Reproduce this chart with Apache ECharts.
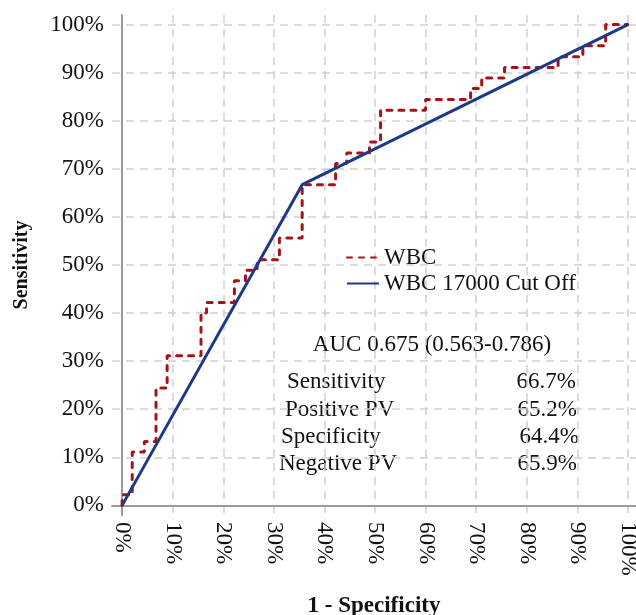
<!DOCTYPE html>
<html>
<head>
<meta charset="utf-8">
<script src="https://cdn.jsdelivr.net/npm/echarts@6/dist/echarts.min.js"></script>
<style>html,body{margin:0;padding:0;background:#fff}#c{width:636px;height:615px}</style>
</head>
<body>
<div id="c"></div>
<script>
// ---- data (percent) ----
var wbcX = [0, 0, 2.0, 2.0, 4.4, 4.4, 6.7, 6.7, 8.9, 8.9, 15.6, 15.6, 16.7, 16.7, 22.2, 22.2, 24.4, 24.4, 26.7, 26.7, 31.1, 31.1, 35.6, 35.6, 42.2, 42.2, 44.4, 44.4, 48.9, 48.9, 51.1, 51.1, 60.0, 60.0, 68.9, 68.9, 71.1, 71.1, 75.6, 75.6, 86.2, 86.2, 91.1, 91.1, 95.6, 95.6, 100];
var wbcY = [0, 2.2, 2.2, 11.1, 11.1, 13.3, 13.3, 24.4, 24.4, 31.1, 31.1, 40.0, 40.0, 42.2, 42.2, 46.7, 46.7, 48.9, 48.9, 51.1, 51.1, 55.6, 55.6, 66.7, 66.7, 71.1, 71.1, 73.3, 73.3, 75.6, 75.6, 82.2, 82.2, 84.4, 84.4, 86.7, 86.7, 88.9, 88.9, 91.1, 91.1, 93.3, 93.3, 95.6, 95.6, 100, 100];
var cutX = [0, 35.6, 100];
var cutY = [0, 66.7, 100];
var tickValues = [0, 10, 20, 30, 40, 50, 60, 70, 80, 90, 100];
var seriesNames = ['WBC', 'WBC 17000 Cut Off'];
var aucText = 'AUC 0.675 (0.563-0.786)';
var statNames = ['Sensitivity', 'Positive PV', 'Specificity', 'Negative PV'];
var statValues = ['66.7%', '65.2%', '64.4%', '65.9%'];

function pairs(xs, ys) { return xs.map(function (x, i) { return [x, ys[i]]; }); }

var FONT = '"Liberation Serif", "Times New Roman", serif';
var chart = echarts.init(document.getElementById('c'), null, { renderer: 'canvas' });

var gridLine = { show: true, lineStyle: { color: '#cfcfcf', width: 1.5, type: [8, 6] } };
var axisLineStyle = { show: true, lineStyle: { color: '#9a9a9a', width: 2 } };

var statLeft = [287, 285, 281, 279];
var statRight = [576, 577, 579, 577];
var statY = [382, 410, 437, 464];
var graphics = [{
  type: 'text', x: 432, y: 345,
  style: { text: aucText, font: '23px ' + FONT, fill: '#111', align: 'center', verticalAlign: 'middle' }
}];
statNames.forEach(function (n, i) {
  graphics.push({ type: 'text', x: statLeft[i], y: statY[i],
    style: { text: n, font: '23px ' + FONT, fill: '#111', align: 'left', verticalAlign: 'middle' } });
  graphics.push({ type: 'text', x: statRight[i], y: statY[i],
    style: { text: statValues[i], font: '23px ' + FONT, fill: '#111', align: 'right', verticalAlign: 'middle' } });
});

chart.setOption({
  animation: false,
  backgroundColor: '#fff',
  grid: { left: 112, right: 0, top: 15, bottom: 100, containLabel: false, outerBoundsMode: 'none' },
  xAxis: {
    type: 'value', min: -2, max: 101.6,
    name: '1 - Specificity', nameLocation: 'middle', nameGap: 80,
    nameTextStyle: { fontFamily: FONT, fontWeight: 'bold', fontSize: 23, color: '#111' },
    axisLine: axisLineStyle,
    axisTick: { show: false, customValues: tickValues },
    axisLabel: { customValues: tickValues, rotate: -90, margin: 7, formatter: '{value}%',
      fontFamily: FONT, fontSize: 23, color: '#111' },
    splitLine: gridLine
  },
  yAxis: {
    type: 'value', min: -2, max: 102,
    name: 'Sensitivity', nameLocation: 'middle', nameGap: 80, nameRotate: 90,
    nameTextStyle: { fontFamily: FONT, fontWeight: 'bold', fontSize: 20, color: '#111' },
    axisLine: axisLineStyle,
    axisTick: { show: false, customValues: tickValues },
    axisLabel: { customValues: tickValues, margin: 8, formatter: '{value}%',
      fontFamily: FONT, fontSize: 23, color: '#111' },
    splitLine: gridLine
  },
  legend: {
    orient: 'vertical', left: 346, top: 246, padding: 0, itemGap: 3,
    itemWidth: 32, itemHeight: 14,
    itemStyle: { opacity: 0 },
    data: seriesNames,
    textStyle: { fontFamily: FONT, fontSize: 23, color: '#111' }
  },
  graphic: graphics,
  series: [
    { name: seriesNames[0], type: 'line', data: pairs(wbcX, wbcY), symbol: 'none', z: 3,
      color: '#a3141a',
      lineStyle: { color: '#a3141a', width: 3, type: [5, 7], cap: 'round' } },
    { name: seriesNames[1], type: 'line', data: pairs(cutX, cutY), symbol: 'none', z: 4,
      color: '#1d3987',
      lineStyle: { color: '#1d3987', width: 3 } }
  ]
});
</script>
</body>
</html>
